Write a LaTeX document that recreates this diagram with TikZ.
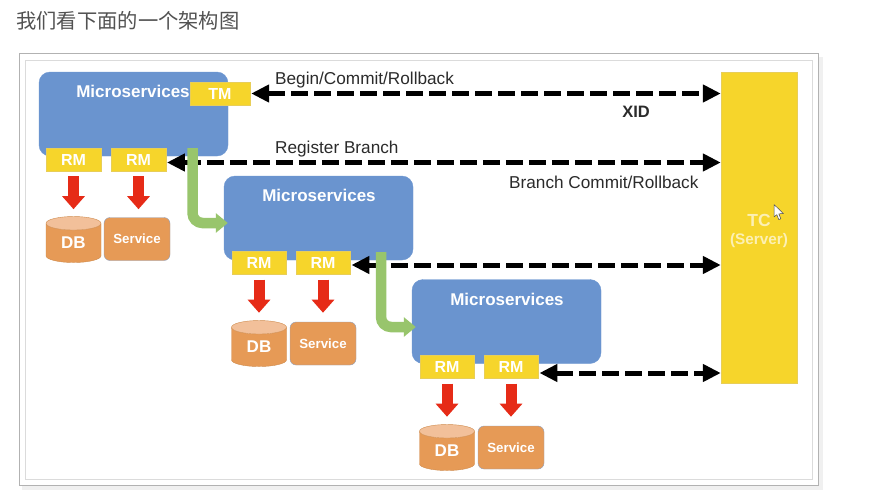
\documentclass[tikz,border=0pt]{standalone}
\usepackage{fontspec}
\setmainfont{Liberation Sans}
\newfontfamily\cjkfont{Noto Sans CJK SC}
\usetikzlibrary{arrows.meta,shapes.geometric,calc}
\definecolor{msblue}{HTML}{6A94CF}
\definecolor{msedge}{HTML}{6F98D2}
\definecolor{ybox}{HTML}{F6D52B}
\definecolor{yedge}{HTML}{E8CE58}
\definecolor{orbox}{HTML}{E69A56}
\definecolor{oredge}{HTML}{8FA0C0}
\definecolor{orlid}{HTML}{F2C09A}
\definecolor{redarr}{HTML}{E62B17}
\definecolor{grarr}{HTML}{98C56C}
\definecolor{txt}{HTML}{2B2B2B}
\definecolor{tcfont}{HTML}{FCF0B4}
\tikzset{
  msbox/.style={draw=msedge,fill=msblue,rounded corners=11pt,minimum width=189pt,minimum height=84pt,inner sep=0pt},
  mstext/.style={text=white,font=\bfseries\fontsize{17}{20}\selectfont,inner sep=0pt},
  rmbox/.style={draw=yedge,fill=ybox,text=white,font=\bfseries\fontsize{16}{18}\selectfont,minimum width=54.5pt,minimum height=23pt,inner sep=0pt},
  tcbox/.style={draw=yedge,fill=ybox,minimum width=76pt,minimum height=311pt,inner sep=0pt},
  tctext/.style={text=tcfont,font=\bfseries\fontsize{17.5}{19}\selectfont,align=center,inner sep=0pt},
  dbbox/.style={cylinder,shape border rotate=90,aspect=0.55,cylinder uses custom fill,cylinder body fill=orbox,cylinder end fill=orlid,draw=orbox!90!black,text=white,font=\bfseries\fontsize{17}{18}\selectfont,minimum width=55pt,minimum height=46pt,inner sep=0pt},
  svcbox/.style={draw=oredge,fill=orbox,rounded corners=6pt,text=white,font=\bfseries\fontsize{13.3}{15}\selectfont,minimum width=66pt,minimum height=43pt,inner sep=0pt},
  lbl/.style={text=txt,font=\fontsize{17.2}{20}\selectfont,inner sep=0pt},
  dashline/.style={line width=5pt,black,dash pattern=on 17pt off 6pt,{Triangle[length=18pt,width=17pt]}-{Triangle[length=18pt,width=17pt]}},
  redline/.style={line width=11pt,redarr,-{Triangle[length=13pt,width=22pt]}},
  greenline/.style={line width=10.5pt,grarr,rounded corners=10pt,-{Triangle[length=12pt,width=19pt]}},
}
\begin{document}
\begin{tikzpicture}[x=1pt,y=-1pt]
\useasboundingbox (0,0) rectangle (870,498);
\fill[white] (0,0) rectangle (870,498);
% frame
\fill[black!6] (22,57) rectangle (823,490);
\draw[draw=black!30,fill=white,line width=0.8pt] (19.5,53.5) rectangle (818.5,485.5);
\draw[draw=black!14,line width=0.8pt] (25.5,60) rectangle (812.5,479);
% title
\node[anchor=west,text=black!68,font=\cjkfont\fontsize{20.3}{22}\selectfont,inner sep=0pt] (title) at (16,21) {我们看下面的一个架构图};
% TC
\node[tcbox] (tc) at (759,227.5) {};
\node[tctext] (tct) at (759,230.5) {TC\\[-1pt]{\fontsize{15.3}{18}\selectfont (Server)}};
% microservice boxes
\node[msbox] (ms1) at (133.5,114) {};
\node[msbox] (ms2) at (318.5,218) {};
\node[msbox] (ms3) at (506.5,321.5) {};
\node[mstext] (ms1t) at (133,91.5) {Microservices};
\node[mstext] (ms2t) at (319,195.5) {Microservices};
\node[mstext] (ms3t) at (507,299) {Microservices};
% RM / TM
\node[rmbox,minimum width=60pt] (tm) at (220,93.5) {TM};
\node[rmbox] (rm11) at (73.5,159.5) {RM};
\node[rmbox] (rm12) at (138.5,159.5) {RM};
\node[rmbox] (rm21) at (259,263) {RM};
\node[rmbox] (rm22) at (323,263) {RM};
\node[rmbox] (rm31) at (447,367) {RM};
\node[rmbox] (rm32) at (511,367) {RM};
% DB / Service
\node[dbbox] (db1) at (73.5,243) {DB};
\node[svcbox] (sv1) at (137,239) {Service};
\node[dbbox] (db2) at (259,347) {DB};
\node[svcbox] (sv2) at (323,343.5) {Service};
\node[dbbox] (db3) at (447,451) {DB};
\node[svcbox] (sv3) at (511,447.5) {Service};
% labels
\node[lbl,anchor=west] (l1) at (275,80) {Begin/Commit/Rollback};
\node[lbl,anchor=west] (l2) at (275,149.5) {Register Branch};
\node[lbl,anchor=west] (l3) at (509,182.5) {Branch Commit/Rollback};
\node[lbl,anchor=center,font=\bfseries\fontsize{16.5}{18}\selectfont] (l4) at (636,111.5) {XID};
% dashed connectors
\coordinate (a2) at ($(rm12.east)+(1,3)$);
\coordinate (a3) at ($(rm22.east)+(1,2)$);
\coordinate (a4) at ($(rm32.east)+(1,6)$);
\draw[dashline] ($(tm.east)+(1,0)$) -- (tc.west |- tm.east);
\draw[dashline] (a2) -- (tc.west |- a2);
\draw[dashline] (a3) -- (tc.west |- a3);
\draw[dashline] (a4) -- (tc.west |- a4);
% red arrows
\draw[redline] ($(rm11.south)+(0,5)$) -- ($(rm11.south)+(0,38)$);
\draw[redline] ($(rm12.south)+(0,5)$) -- ($(rm12.south)+(0,38)$);
\draw[redline] ($(rm21.south)+(0,5)$) -- ($(rm21.south)+(0,38)$);
\draw[redline] ($(rm22.south)+(0,5)$) -- ($(rm22.south)+(0,38)$);
\draw[redline] ($(rm31.south)+(0,5)$) -- ($(rm31.south)+(0,38)$);
\draw[redline] ($(rm32.south)+(0,5)$) -- ($(rm32.south)+(0,38)$);
% green arrows
\coordinate (g1s) at (192.5,148);
\coordinate (g1e) at ($(ms2.west)+(4,5)$);
\coordinate (g2s) at (381,252);
\coordinate (g2e) at ($(ms3.west)+(4,5.5)$);
\draw[greenline] (g1s) -- (g1s |- g1e) -- (g1e);
\draw[greenline] (g2s) -- (g2s |- g2e) -- (g2e);
% cursor
\draw[fill=white,draw=black!70,line width=0.5pt,line join=round] (774,204.5) -- (774,217) -- (776.8,214.6) -- (778.8,219.6) -- (780.8,218.8) -- (778.8,213.8) -- (783.5,213.6) -- cycle;
\end{tikzpicture}
\end{document}
